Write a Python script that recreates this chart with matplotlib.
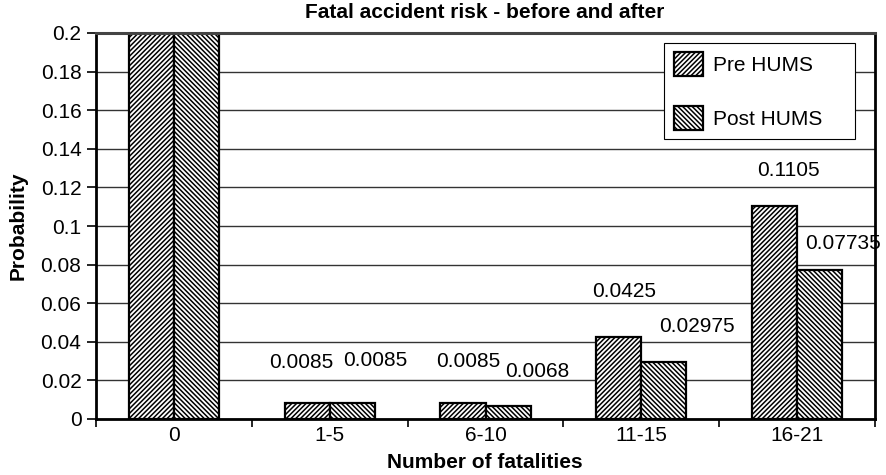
import matplotlib
matplotlib.use("Agg")
import matplotlib.pyplot as plt
import numpy as np

# data
categories = ["0", "1-5", "6-10", "11-15", "16-21"]
pre_hums = [0.83, 0.0085, 0.0085, 0.0425, 0.1105]
post_hums = [0.8776, 0.0085, 0.0068, 0.02975, 0.07735]
labelled = [False, True, True, True, True]

# label offsets (pixels) from bar top, as Excel placed them
pre_offsets = [(0, 0), (-6, 40), (5, 41), (5, 45), (14, 35)]
post_offsets = [(0, 0), (23, 42), (29, 34), (33, 35), (23, 26)]

plt.rcParams["font.family"] = ["Liberation Sans", "DejaVu Sans"]
plt.rcParams["font.size"] = 15
plt.rcParams["hatch.linewidth"] = 1.1

W, H = 886, 475
fig = plt.figure(figsize=(W / 100, H / 100), dpi=100)
ax = fig.add_axes([96 / W, 1 - 419 / H, 779 / W, 386 / H])

x = np.arange(len(categories))
width = 0.29
ax.bar(x - width / 2, pre_hums, width, facecolor="white",
       edgecolor="black", linewidth=1.6, hatch="/" * 7, label="Pre HUMS")
ax.bar(x + width / 2, post_hums, width, facecolor="white",
       edgecolor="black", linewidth=1.6, hatch="\\" * 7, label="Post HUMS")

for i in range(len(categories)):
    if not labelled[i]:
        continue
    ax.annotate(f"{pre_hums[i]:g}", xy=(x[i] - width / 2, pre_hums[i]),
                xytext=pre_offsets[i], textcoords="offset pixels",
                ha="center", va="center")
    ax.annotate(f"{post_hums[i]:g}", xy=(x[i] + width / 2, post_hums[i]),
                xytext=post_offsets[i], textcoords="offset pixels",
                ha="center", va="center")

ax.set_xlim(-0.5, len(categories) - 0.5)
ax.set_ylim(0, 0.2)
ax.set_yticks(np.arange(0, 0.201, 0.02))
ax.yaxis.set_major_formatter(
    plt.FuncFormatter(lambda v, p: f"{v:.2f}".rstrip("0").rstrip(".")))
ax.set_xticks(x)
ax.set_xticklabels(categories)
ax.set_xticks(np.arange(-0.5, len(categories)), minor=True)
ax.tick_params(axis="x", which="major", length=0, pad=5)
ax.tick_params(axis="x", which="minor", length=6, width=1.2, direction="out")
ax.tick_params(axis="y", length=6.5, width=1.2, pad=4)

ax.set_axisbelow(True)
ax.grid(axis="y", color="#333333", linewidth=1)
for side in ["left", "right", "bottom"]:
    ax.spines[side].set_linewidth(2)
    ax.spines[side].set_color("black")
ax.spines["top"].set_linewidth(2.2)
ax.spines["top"].set_color("#444444")

fig.text(485 / W, 1 - 13 / H, "Fatal accident risk - before and after",
         ha="center", va="center", fontweight="bold")
fig.text(485 / W, 1 - 463 / H, "Number of fatalities",
         ha="center", va="center", fontweight="bold")
fig.text(18 / W, 1 - 226 / H, "Probability", rotation=90,
         ha="center", va="center", fontweight="bold")

leg = ax.legend(["Pre HUMS    ", "Post HUMS    "], loc="upper right",
                bbox_to_anchor=(855 / W, 1 - 43 / H), bbox_transform=fig.transFigure,
                borderaxespad=0, fancybox=False, framealpha=1,
                handlelength=1.4, handleheight=1.4, handletextpad=0.5,
                labelspacing=1.4, borderpad=0.45)
leg.get_frame().set_edgecolor("black")
leg.get_frame().set_linewidth(0.8)

fig.savefig("out.png", dpi=100)
